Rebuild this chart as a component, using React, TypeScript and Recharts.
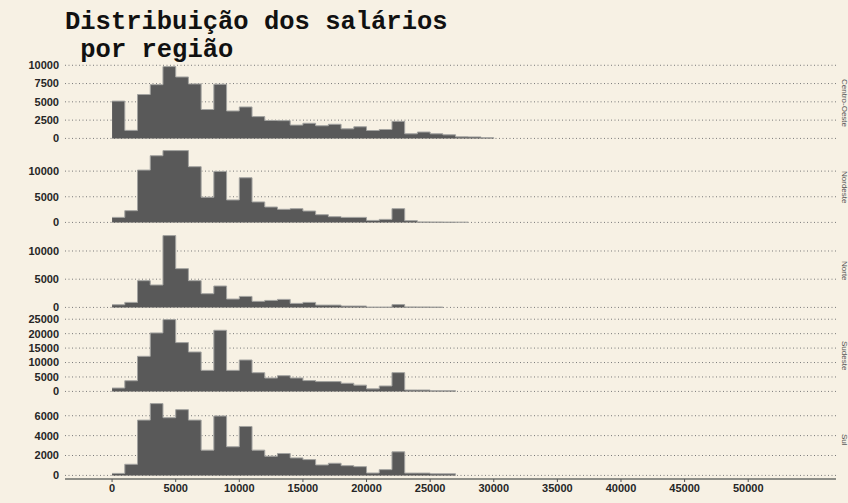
import React from 'react';
import { AreaChart, Area, XAxis, YAxis, CartesianGrid } from 'recharts';

// bordas dos bins (largura 1000)
const binEdges = [
  0, 1000, 2000, 3000, 4000, 5000, 6000, 7000, 8000, 9000, 10000,
  11000, 12000, 13000, 14000, 15000, 16000, 17000, 18000, 19000, 20000,
  21000, 22000, 23000, 24000, 25000, 26000, 27000, 28000, 29000, 30000,
];

const regions = ['Centro-Oeste', 'Nordeste', 'Norte', 'Sudeste', 'Sul'];

const centroOeste = [5100, 1100, 6000, 7350, 9820, 8400, 7450, 3950, 7400, 3750, 4300, 2980, 2450, 2430, 1820, 2070, 1730, 1930, 1310, 1590, 1080, 1220, 2330, 630, 870, 630, 490, 210, 200, 100];
const nordeste = [980, 2290, 10200, 13000, 14000, 14000, 10860, 4900, 9940, 4380, 8700, 3990, 3000, 2550, 2680, 2220, 1500, 1110, 980, 980, 390, 590, 2680, 340, 100, 80, 60, 50];
const norte = [470, 890, 4740, 3970, 12730, 6870, 4740, 2430, 3790, 1480, 1950, 1070, 1240, 1420, 710, 890, 410, 410, 240, 240, 60, 60, 500, 90, 80, 60];
const sudeste = [1160, 3700, 12150, 20250, 24870, 16900, 13650, 7290, 21170, 7290, 10880, 6480, 4630, 5440, 4640, 3750, 3400, 3400, 2820, 2170, 880, 1880, 6500, 480, 480, 240, 240];
const sul = [200, 1120, 5560, 7220, 5800, 6610, 5560, 2540, 5970, 2880, 4920, 2540, 1930, 2200, 1760, 1590, 1050, 1220, 980, 880, 240, 580, 2370, 230, 230, 160, 160];

const counts = [centroOeste, nordeste, norte, sudeste, sul];

const yTicks = [
  [0, 2500, 5000, 7500, 10000],
  [0, 5000, 10000],
  [0, 5000, 10000],
  [0, 5000, 10000, 15000, 20000, 25000],
  [0, 2000, 4000, 6000],
];
const xTicks = [0, 5000, 10000, 15000, 20000, 25000, 30000, 35000, 40000, 45000, 50000];

const BG = '#F7F1E4';
const PANEL_H = 79;
const PANEL_STEP = 84.15;
const FIRST_TOP = 63.3;
const PAD = 6;

const tickStyle = { fontSize: 11, fontWeight: 'bold', fill: '#262626', fontFamily: '"Liberation Sans", Arial, sans-serif' };

const Panel = ({ index }: { index: number }) => {
  const values = counts[index];
  // step area: cada ponto é a borda esquerda do bin, o último fecha em 0
  const data = binEdges.slice(0, values.length + 1).map((x, i) => ({ x, n: i < values.length ? values[i] : 0 }));
  const max = Math.max(...values);
  const last = index === counts.length - 1;
  const top = FIRST_TOP + PANEL_STEP * index;
  const height = PAD + PANEL_H + (last ? 22 + 2 : PAD);

  return (
    <div style={{ position: 'absolute', left: 0, top: top - PAD }}>
      <AreaChart
        width={848}
        height={height}
        data={data}
        margin={{ top: PAD, right: 12, bottom: last ? 2 : PAD, left: 5 }}
      >
        <CartesianGrid vertical={false} syncWithTicks stroke="#7a7a7a" strokeDasharray="1 2.5" />
        <XAxis
          type="number"
          dataKey="x"
          domain={[-3700, 56900]}
          allowDataOverflow
          ticks={xTicks}
          hide={!last}
          height={22}
          axisLine={{ stroke: '#8f8f88', strokeWidth: 2 }}
          tickLine={{ stroke: '#555' }}
          tickSize={3}
          tickMargin={2}
          tick={tickStyle}
          interval={0}
        />
        <YAxis
          width={60}
          domain={[-0.05 * max, 1.05 * max]}
          allowDataOverflow
          ticks={yTicks[index]}
          axisLine={false}
          tickLine={false}
          tickSize={0}
          tickMargin={6}
          tick={tickStyle}
          interval={0}
        />
        <Area
          type="stepAfter"
          dataKey="n"
          baseValue={0}
          fill="#595959"
          fillOpacity={1}
          stroke="#a3a3a0"
          strokeWidth={1}
          dot={false}
          activeDot={false}
          isAnimationActive={false}
        />
      </AreaChart>
    </div>
  );
};

export default function App() {
  return (
    <div style={{ position: 'absolute', left: 0, top: 0, width: 848, height: 503, background: BG, overflow: 'hidden' }}>
      <div
        style={{
          position: 'absolute',
          left: 65,
          top: 9,
          fontFamily: '"Liberation Mono", "Courier New", monospace',
          fontWeight: 'bold',
          fontSize: 25.5,
          lineHeight: '28.3px',
          color: '#111',
          whiteSpace: 'pre',
        }}
      >
        {'Distribuição dos salários\n por região'}
      </div>
      {regions.map((r, i) => (
        <Panel key={r} index={i} />
      ))}
      {regions.map((r, i) => (
        <div
          key={'strip-' + r}
          style={{
            position: 'absolute',
            left: 839,
            top: FIRST_TOP + PANEL_STEP * i,
            width: 10,
            height: PANEL_H,
            writingMode: 'vertical-rl',
            textAlign: 'center',
            fontSize: 8,
            lineHeight: '10px',
            fontFamily: '"Liberation Sans", Arial, sans-serif',
            color: '#555',
          }}
        >
          {r}
        </div>
      ))}
    </div>
  );
}
